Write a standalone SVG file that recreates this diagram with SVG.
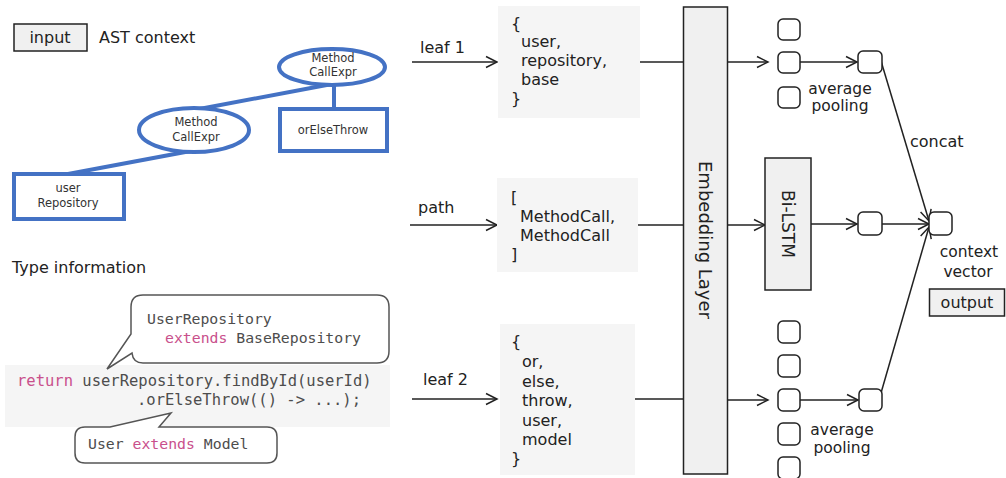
<svg xmlns="http://www.w3.org/2000/svg" width="1006" height="478" viewBox="0 0 1006 478">
<style>
text{font-family:"DejaVu Sans","Noto Sans",sans-serif;fill:#222;font-size:16px}
.sm{font-size:11.5px;fill:#333}
.mono{font-family:"DejaVu Sans Mono","Liberation Mono",monospace;fill:#4d4d4d}
.code{font-size:15.5px}
.bt{font-size:14.8px}
.s155{font-size:15.5px}
.kw{fill:#c9508c}
.mid{text-anchor:middle}
.blue{fill:#fff;stroke:#4472C4;stroke-width:4}
.bl{stroke:#4472C4;stroke-width:4;fill:none}
.gbox{fill:#f0f0f0;stroke:#222;stroke-width:1.5}
.tbox{fill:#f5f5f5}
.sq{fill:#fff;stroke:#222;stroke-width:1.5}
.ln{stroke:#222;stroke-width:1.5;fill:none}
.arr{stroke:#222;stroke-width:1.5;fill:none;marker-end:url(#ah)}
.bub{fill:#fff;stroke:#555;stroke-width:1.5}
</style>
<defs>
<marker id="ah" markerUnits="userSpaceOnUse" markerWidth="14" markerHeight="14" viewBox="0 0 14 14" refX="12" refY="7" orient="auto">
<path d="M1,1.5 L12,7 L1,12.5" fill="none" stroke="#222" stroke-width="1.5"/>
</marker>
</defs>
<rect width="1006" height="478" fill="#fff"/>

<g id="legend-input">
<rect class="gbox" x="14" y="24" width="73" height="27"/>
<text class="mid" x="50" y="43">input</text>
</g>
<text id="ast-title" x="99" y="43">AST context</text>

<g id="ast-edges">
<line class="bl" x1="332" y1="84" x2="194" y2="110"/>
<line class="bl" x1="334" y1="84" x2="334" y2="109"/>
<line class="bl" x1="196" y1="150" x2="68" y2="174"/>
</g>
<g id="ast-mce1">
<ellipse class="blue" cx="332" cy="67" rx="53" ry="18"/>
<text class="sm mid" x="333" y="62">Method</text>
<text class="sm mid" x="333" y="76">CallExpr</text>
</g>
<g id="ast-mce2">
<ellipse class="blue" cx="194" cy="130" rx="55" ry="22"/>
<text class="sm mid" x="196" y="126">Method</text>
<text class="sm mid" x="196" y="141">CallExpr</text>
</g>
<g id="ast-orelse">
<rect class="blue" x="280" y="109" width="107" height="42"/>
<text class="sm mid" x="333" y="134">orElseThrow</text>
</g>
<g id="ast-userrepo">
<rect class="blue" x="14" y="174" width="110" height="45"/>
<text class="sm mid" x="68" y="192">user</text>
<text class="sm mid" x="68" y="207">Repository</text>
</g>

<text id="type-title" x="12" y="273">Type information</text>
<g id="code">
<rect class="tbox" x="5" y="365" width="385" height="62"/>
<text class="mono code" x="17" y="386"><tspan class="kw">return</tspan> userRepository.findById(userId)</text>
<text class="mono code" x="137" y="405">.orElseThrow(() -&gt; ...);</text>
</g>
<g id="bubble-repo">
<path class="bub" d="M143,295 H377 Q389,295 389,307 V351 Q389,363 377,363 H143 Q133,363 132,353 L107,369 L131,334 V307 Q131,295 143,295 Z"/>
<text class="mono bt" x="147" y="324">UserRepository</text>
<text class="mono bt" x="165" y="343"><tspan class="kw">extends</tspan> BaseRepository</text>
</g>
<g id="bubble-user">
<path class="bub" d="M85,427 H110 L171,413 L159,427 H267 Q277,427 277,437 V453 Q277,463 267,463 H85 Q75,463 75,453 V437 Q75,427 85,427 Z"/>
<text class="mono bt" x="88" y="449">User <tspan class="kw">extends</tspan> Model</text>
</g>

<g id="connectors">
<line class="arr" x1="412" y1="62" x2="497" y2="62"/>
<line class="arr" x1="410" y1="225" x2="497" y2="225"/>
<line class="arr" x1="412" y1="399" x2="497" y2="399"/>
<line class="ln" x1="640" y1="62" x2="683" y2="62"/>
<line class="ln" x1="638" y1="225" x2="683" y2="225"/>
<line class="ln" x1="635" y1="399" x2="683" y2="399"/>
<line class="arr" x1="728" y1="62" x2="768" y2="62"/>
<line class="arr" x1="728" y1="225" x2="765" y2="225"/>
<line class="arr" x1="728" y1="400" x2="768" y2="400"/>
<line class="arr" x1="800" y1="62" x2="857" y2="62"/>
<line class="arr" x1="811" y1="224" x2="857" y2="224"/>
<line class="arr" x1="800" y1="400" x2="858" y2="400"/>
<line class="arr" x1="882" y1="224" x2="929" y2="224"/>
<line class="arr" x1="881" y1="61" x2="929" y2="221"/>
<line class="arr" x1="881" y1="393" x2="929" y2="227"/>
</g>

<text id="lbl-leaf1" x="420" y="53">leaf 1</text>
<text id="lbl-path" x="418" y="213">path</text>
<text id="lbl-leaf2" x="423" y="385">leaf 2</text>

<g id="box-leaf1">
<rect class="tbox" x="498" y="6" width="142" height="112"/>
<text x="511" y="29">{</text>
<text x="521" y="47">user,</text>
<text x="521" y="66">repository,</text>
<text x="521" y="85">base</text>
<text x="511" y="104">}</text>
</g>
<g id="box-path">
<rect class="tbox" x="497" y="178" width="141" height="94"/>
<text x="511" y="203">[</text>
<text x="520" y="222">MethodCall,</text>
<text x="520" y="241">MethodCall</text>
<text x="511" y="260">]</text>
</g>
<g id="box-leaf2">
<rect class="tbox" x="500" y="324" width="135" height="151"/>
<text x="511" y="347">{</text>
<text x="522" y="367">or,</text>
<text x="522" y="387">else,</text>
<text x="522" y="406">throw,</text>
<text x="522" y="426">user,</text>
<text x="522" y="445">model</text>
<text x="511" y="464">}</text>
</g>

<g id="embedding">
<rect class="gbox" x="683.5" y="7" width="44" height="467"/>
<text class="mid" style="font-size:18px" transform="translate(698.5,240) rotate(90)">Embedding Layer</text>
</g>
<g id="bilstm">
<rect class="gbox" x="765" y="158" width="46" height="132"/>
<text class="mid" style="font-size:17px" transform="translate(782,224) rotate(90)">Bi-LSTM</text>
</g>

<g id="leaf1-vectors">
<rect class="sq" x="778" y="19" width="22" height="21" rx="5"/>
<rect class="sq" x="778" y="52" width="22" height="21" rx="5"/>
<rect class="sq" x="778" y="87" width="22" height="21" rx="5"/>
</g>
<g id="leaf2-vectors">
<rect class="sq" x="778" y="321" width="22" height="22" rx="5"/>
<rect class="sq" x="778" y="355" width="22" height="22" rx="5"/>
<rect class="sq" x="778" y="389" width="22" height="22" rx="5"/>
<rect class="sq" x="778" y="423" width="22" height="22" rx="5"/>
<rect class="sq" x="778" y="457" width="22" height="22" rx="5"/>
</g>
<g id="pool1">
<rect class="sq" x="858" y="51" width="24" height="22" rx="5"/>
<text class="mid s155" x="840" y="94">average</text>
<text class="mid s155" x="840" y="111">pooling</text>
</g>
<g id="lstm-out">
<rect class="sq" x="858" y="212" width="24" height="23" rx="5"/>
</g>
<g id="pool2">
<rect class="sq" x="859" y="389" width="23" height="22" rx="5"/>
<text class="mid s155" x="842" y="435">average</text>
<text class="mid s155" x="842" y="453">pooling</text>
</g>
<text id="lbl-concat" x="910" y="147">concat</text>
<g id="context-vector">
<rect class="sq" x="929" y="212" width="23" height="23" rx="5"/>
<text class="mid s155" x="969" y="257">context</text>
<text class="mid s155" x="968" y="277">vector</text>
</g>
<g id="legend-output">
<rect class="gbox" x="929.5" y="289" width="75" height="27"/>
<text class="mid" x="967" y="308">output</text>
</g>
</svg>
